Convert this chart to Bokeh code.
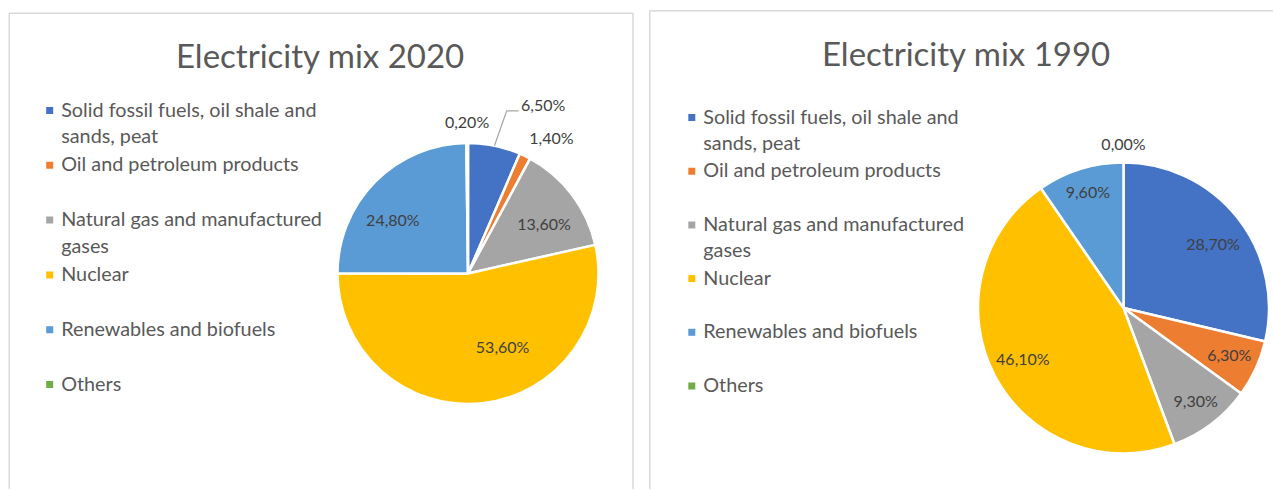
import math
import textwrap
from bokeh.plotting import figure
from bokeh.models import Range1d, ColumnDataSource
from bokeh.core.properties import value
from bokeh.embed import file_html
from bokeh.resources import INLINE

# ---------------- data ----------------
categories = [
    "Solid fossil fuels, oil shale and sands, peat",
    "Oil and petroleum products",
    "Natural gas and manufactured gases",
    "Nuclear",
    "Renewables and biofuels",
    "Others",
]
mix_2020 = [6.5, 1.4, 13.6, 53.6, 24.8, 0.2]
mix_1990 = [28.7, 6.3, 9.3, 46.1, 9.6, 0.0]
titles = ["Electricity mix 2020", "Electricity mix 1990"]
colors = ["#4472C4", "#ED7D31", "#A5A5A5", "#FFC000", "#5B9BD5", "#70AD47"]

# ---------------- label placement style (Excel "best fit") ----------------
label_nudge_2020 = [12.6, 6.0, 4.7, -18.6, -10.0, 0.0]
label_radius_2020 = [1.40, 1.21, 0.69, 0.63, 0.70, 1.15]
leader_2020 = [True, False, False, False, False, False]
label_nudge_1990 = [3.5, 0.0, 0.0, 0.0, 0.0, 0.0]
label_radius_1990 = [0.75, 0.80, 0.82, 0.78, 0.825, 1.12]
leader_1990 = [False] * 6

FONT = "Lato"
TITLE_C = "#595959"
LEGEND_C = "#595959"
LABEL_C = "#404040"
TEXT_DY = -2.0  # optical correction of the "middle" baseline

W, H = 1273, 489


def Y(py):
    # page pixel row -> data y (y axis points up)
    return H - py


p = figure(width=W, height=H, x_range=Range1d(0, W), y_range=Range1d(0, H),
           output_backend="svg", toolbar_location=None, min_border=0,
           outline_line_color=None, background_fill_color="white", border_fill_color="white")
p.axis.visible = False
p.grid.visible = False

panels = [
    dict(values=mix_2020, title=titles[0], left=8.75, right=632.5, top=12.75, tx=320, ty=56.5,
         cx=467.5, cy=273.0, r=130.5, lgx=49.2, lgy=110.0, lgstep=54.8,
         nudge=label_nudge_2020, rad=label_radius_2020, leader=leader_2020),
    dict(values=mix_1990, title=titles[1], left=649.25, right=1300, top=10.25, tx=966, ty=54.0,
         cx=1123.0, cy=307.5, r=145.5, lgx=691.3, lgy=117.0, lgstep=53.7,
         nudge=label_nudge_1990, rad=label_radius_1990, leader=leader_1990),
]

for pn in panels:
    # panel frame
    p.quad(left=[pn["left"]], right=[pn["right"]], top=[Y(pn["top"])], bottom=[Y(700)],
           fill_color=None, line_color="#D9D9D9", line_width=1.5)

    # title
    p.text(x=[pn["tx"]], y=[Y(pn["ty"] + TEXT_DY)], text=[pn["title"]], text_align="center",
           text_baseline="middle", text_font=value(FONT), text_font_size="33px",
           text_color=TITLE_C)

    vals = pn["values"]
    total = sum(vals)
    starts, ends = [], []
    acc = 0.0
    for v in vals:
        starts.append(acc / total)
        acc += v
        ends.append(acc / total)

    keep = [i for i, v in enumerate(vals) if v > 0]
    src = ColumnDataSource(dict(
        start=[math.pi / 2 - 2 * math.pi * ends[i] for i in keep],
        end=[math.pi / 2 - 2 * math.pi * starts[i] for i in keep],
        color=[colors[i] for i in keep],
    ))
    p.wedge(x=pn["cx"], y=Y(pn["cy"]), radius=pn["r"], start_angle="start", end_angle="end",
            direction="anticlock", fill_color="color", line_color="white", line_width=2.5,
            source=src)

    # data labels
    lx, ly, lt = [], [], []
    for i, v in enumerate(vals):
        mid = 360.0 * (starts[i] + ends[i]) / 2
        th = math.radians(mid + pn["nudge"][i])
        rr = pn["rad"][i] * pn["r"]
        x = pn["cx"] + rr * math.sin(th)
        ypx = pn["cy"] - rr * math.cos(th)
        lx.append(x)
        ly.append(Y(ypx + TEXT_DY))
        lt.append(f"{v:.2f}".replace(".", ",") + "%")
        if pn["leader"][i]:
            m = math.radians(mid)
            ax = pn["cx"] + pn["r"] * math.sin(m)
            ay = pn["cy"] - pn["r"] * math.cos(m)
            p.line(x=[ax, x - 36.5, x - 24.5], y=[Y(ay), Y(ypx + 4), Y(ypx + 4)],
                   line_color="#A6A6A6", line_width=1.2)
    p.text(x=lx, y=ly, text=lt, text_align="center", text_baseline="middle",
           text_font=value(FONT), text_font_size="16px", text_color=LABEL_C)

    # legend
    tx, ty, tt = [], [], []
    for i, cat in enumerate(categories):
        iy = pn["lgy"] + i * pn["lgstep"]
        for k, line in enumerate(textwrap.wrap(cat, width=33)):
            tx.append(pn["lgx"] + 11.5)
            ty.append(Y(iy + k * 26.5 + TEXT_DY))
            tt.append(line)
    p.scatter(x=[pn["lgx"]] * len(categories),
              y=[Y(pn["lgy"] + i * pn["lgstep"]) for i in range(len(categories))],
              marker="square", size=7, fill_color=colors, line_color=None)
    p.text(x=tx, y=ty, text=tt, text_align="left", text_baseline="middle",
           text_font=value(FONT), text_font_size="19.8px", text_color=LEGEND_C)

open("out.html", "w").write(file_html(p, INLINE))
